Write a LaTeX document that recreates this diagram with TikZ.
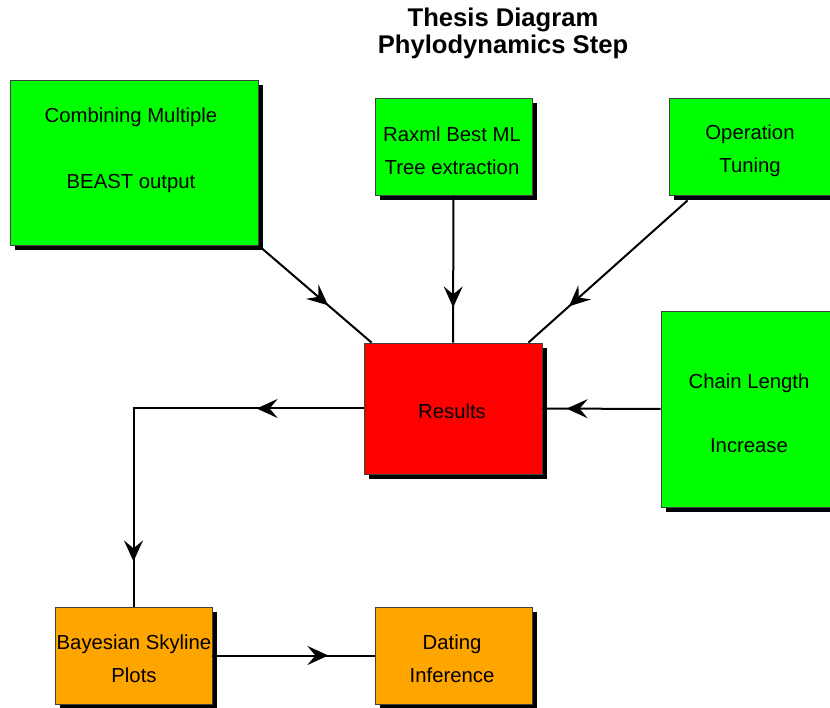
\documentclass[tikz,border=0pt]{standalone}
\usepackage{fontspec}
\setmainfont{Liberation Sans}
\usetikzlibrary{shadows,decorations.markings,arrows.meta,calc}
\definecolor{boxgreen}{HTML}{00FF00}
\definecolor{boxred}{HTML}{FF0000}
\definecolor{boxorange}{HTML}{FFA500}
\tikzset{
  box/.style={rectangle, draw=black!75, line width=0.8pt, inner sep=0pt,
    drop shadow={shadow xshift=5pt, shadow yshift=-5pt, fill=black, opacity=1}},
  txt/.style={align=center, inner sep=0pt, font=\fontsize{20.3}{33}\selectfont},
  conn/.style={line width=2pt, black},
  midarrow/.style={postaction={decorate}, decoration={markings,
    mark=at position #1 with {\arrow{Stealth[length=21pt,width=19pt,inset=8pt]}}}},
  midarrows/.style 2 args={postaction={decorate}, decoration={markings,
    mark=at position #1 with {\arrow{Stealth[length=21pt,width=19pt,inset=8pt]}},
    mark=at position #2 with {\arrow{Stealth[length=21pt,width=19pt,inset=8pt]}}}},
}
\begin{document}
\begin{tikzpicture}[x=1pt,y=-1pt]
\useasboundingbox (0,0) rectangle (830,708);
\clip (0,0) rectangle (830,708);
\fill[white] (0,0) rectangle (830,708);

\node[font=\bfseries\fontsize{25.6}{27}\selectfont, align=center] (title) at (503,33.5)
  {Thesis Diagram\\Phylodynamics Step};

\node[box, fill=boxgreen, minimum width=248pt, minimum height=165pt] (comb) at (134,162.5) {};
\node[box, fill=boxgreen, minimum width=157pt, minimum height=97pt] (rax) at (453.5,146.5) {};
\node[box, fill=boxgreen, minimum width=161pt, minimum height=97pt] (oper) at (749.5,146.5) {};
\node[box, fill=boxred, minimum width=178pt, minimum height=131pt] (res) at (453,408.5) {};
\node[box, fill=boxgreen, minimum width=175pt, minimum height=196pt] (chain) at (748.5,409) {};
\node[box, fill=boxorange, minimum width=157pt, minimum height=97pt] (bay) at (133.5,655.5) {};
\node[box, fill=boxorange, minimum width=157pt, minimum height=97pt] (dat) at (453.5,655.5) {};

\node[txt] (combtxt) at (131,150) {Combining Multiple\\[33pt]BEAST output};
\node[txt] (raxtxt) at (452,150.5) {Raxml Best ML\\Tree extraction};
\node[txt] (opertxt) at (750,150.5) {Operation\\Tuning};
\node[txt] (restxt) at (452,411) {Results};
\node[txt] (chaintxt) at (749,413) {Chain Length\\[31pt]Increase};
\node[txt] (baytxt) at (134,658.5) {Bayesian Skyline\\Plots};
\node[txt] (dattxt) at (452,658.5) {Dating\\Inference};

\draw[conn, midarrow=92pt] (comb.south east) -- ($(res.north west)+(8,0)$);
\draw[conn, midarrow=112pt] (rax.south) -- (res.north);
\draw[conn, midarrow=159pt] ($(oper.south west)+(19,5)$) -- ($(res.north east)+(-14,0)$);
\draw[conn, midarrow=94pt] (chain.west) -- (res.east);
\draw[conn, midarrows={107pt}{383pt}] (res.west) -| (bay.north);
\draw[conn, midarrow=116pt] (bay.east) -- (dat.west);
\end{tikzpicture}
\end{document}
